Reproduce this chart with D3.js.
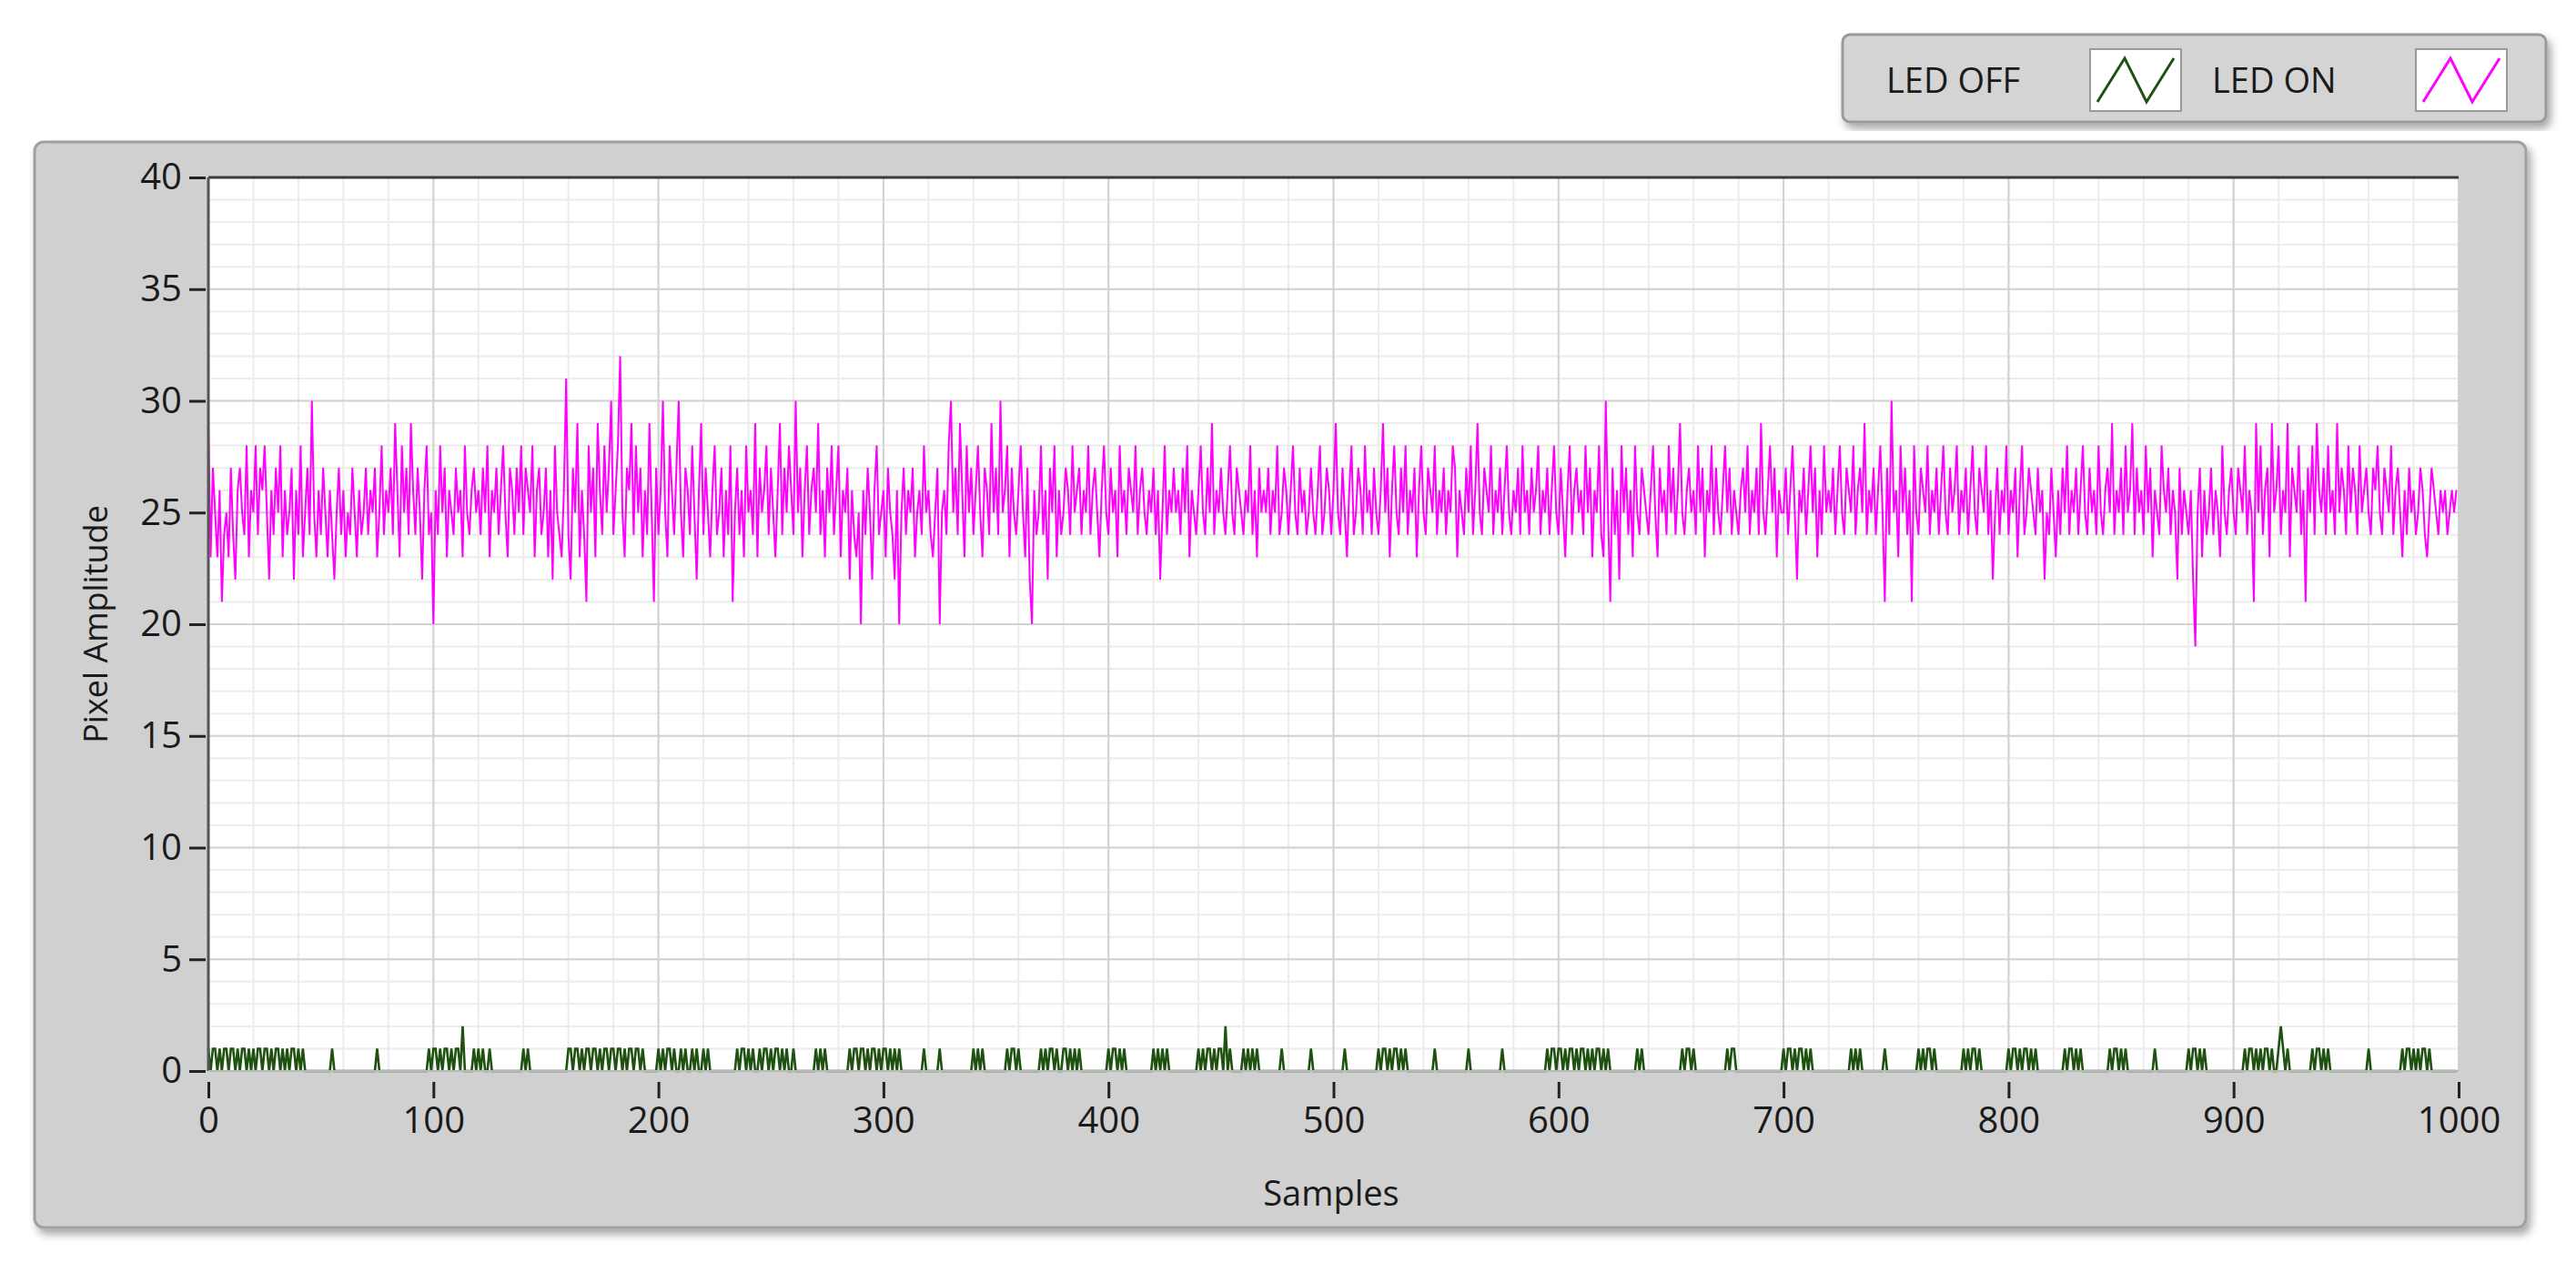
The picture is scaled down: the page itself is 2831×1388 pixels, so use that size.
<!DOCTYPE html>
<html><head><meta charset="utf-8">
<script src="https://cdn.jsdelivr.net/npm/d3@7/dist/d3.min.js"></script>
<style>body{margin:0;background:#fff}svg{display:block}</style>
</head><body>
<svg id="c" width="2831" height="1388"></svg>
<script>
const seriesNames = ["LED OFF", "LED ON"];
const xTicks = [0,100,200,300,400,500,600,700,800,900,1000];
const yTicks = [0,5,10,15,20,25,30,35,40];
const ledOn = [
29,23,27,25,23,26,21,24,25,23, 27,24,22,26,27,25,24,28,23,26, 25,28,24,27,26,28,25,22,26,24, 27,25,28,23,26,24,25,27,22,26,
24,28,23,25,27,24,30,25,23,26, 24,27,25,23,26,24,22,25,27,24, 26,23,25,24,27,25,23,26,24,25, 27,24,26,25,27,23,25,28,24,26,
25,27,24,29,26,23,28,25,27,24, 29,26,24,27,25,22,26,28,24,25, 20,26,24,28,25,27,23,26,25,24, 27,25,26,23,28,25,24,26,27,25,
26,24,27,25,28,23,26,25,27,24, 26,28,25,23,27,26,24,27,25,28, 24,27,26,25,28,23,26,27,24,25, 27,23,26,22,28,25,24,23,26,31,
24,22,27,25,29,23,26,24,21,28, 25,27,23,29,26,24,28,25,27,30, 24,26,28,32,25,23,27,26,29,24, 28,25,27,23,26,24,29,25,21,27,
24,26,30,25,23,28,26,24,27,30, 25,23,27,26,24,28,25,22,26,29, 24,27,25,23,26,28,24,25,27,23, 26,24,28,21,25,27,24,26,23,28,
25,26,24,29,23,27,25,26,28,24, 27,25,23,26,29,24,27,25,28,26, 24,30,25,27,23,26,28,24,26,27, 25,29,24,26,23,27,25,28,24,26,
28,23,26,25,27,22,26,24,23,25, 20,26,24,27,25,22,26,28,24,25, 26,23,27,25,24,22,26,20,25,27, 24,26,25,27,23,25,26,24,28,25,
26,24,23,25,27,20,25,26,24,28, 30,25,27,24,29,26,23,28,25,27, 24,26,28,25,23,27,26,24,29,25, 27,24,30,25,26,28,23,27,25,24,
26,28,25,23,27,22,20,26,24,25, 28,24,26,22,27,25,28,23,26,24, 25,27,26,24,28,25,26,27,24,26, 25,28,24,26,27,25,23,26,28,25,
24,27,25,26,23,28,25,26,24,27, 26,25,28,24,26,27,25,24,26,25, 27,24,26,22,25,28,24,26,25,27, 25,26,24,27,25,28,23,26,25,24,
26,28,25,24,27,25,29,24,26,25, 27,25,24,26,28,25,24,27,26,25, 24,26,25,28,24,26,23,27,25,26, 25,27,24,26,25,28,24,25,27,26,
24,26,28,25,24,27,25,26,24,25, 27,25,24,26,28,24,25,27,26,24, 26,29,25,24,27,25,23,26,28,24, 25,27,26,24,28,25,26,24,27,25,
24,26,29,25,27,23,26,28,25,24, 27,25,28,24,26,25,27,23,26,28, 25,24,27,26,25,28,24,26,25,27, 24,26,25,28,27,23,26,25,24,27,
25,28,24,26,29,25,24,27,26,25, 28,24,26,25,27,24,26,28,25,24, 26,25,27,24,28,25,26,24,27,25, 26,28,24,26,25,27,24,26,28,25,
24,27,25,23,26,28,24,26,27,25, 26,24,28,25,27,23,26,25,28,24, 23,30,25,21,27,24,26,22,28,25, 27,24,26,23,28,25,24,27,26,25,
24,26,28,25,23,27,25,26,24,28, 25,27,24,26,29,25,24,26,27,25, 26,24,28,25,27,23,26,25,28,24, 27,25,24,26,28,25,27,24,26,25,
24,26,27,25,28,24,26,25,27,24, 29,25,24,26,28,25,27,23,26,25, 25,27,24,26,28,25,22,26,25,27, 24,26,28,25,27,23,26,24,28,25,
26,25,27,24,26,28,25,24,27,26, 25,28,24,26,27,25,29,24,26,25, 27,24,26,28,25,21,27,24,30,25, 26,23,28,25,27,24,26,21,28,25,
24,27,26,25,28,24,26,25,27,24, 26,28,25,24,27,25,26,28,24,26, 25,27,24,26,28,25,24,27,26,25, 28,24,26,22,25,27,24,26,25,28,
24,26,25,27,23,26,28,24,25,27, 26,25,24,27,25,26,22,25,24,27, 25,23,26,24,27,25,28,24,26,25, 27,24,26,28,25,24,27,25,26,24,
28,25,24,26,27,25,29,24,26,25, 27,24,28,25,26,29,24,27,25,26, 24,28,25,27,23,26,25,24,28,26, 25,27,24,26,25,22,27,24,26,25,
24,26,22,19,25,27,23,26,24,25, 27,24,26,25,23,28,25,24,26,27, 25,24,27,26,25,28,24,26,25,21, 29,25,28,24,26,27,23,29,25,26,
28,24,26,25,29,23,27,26,25,28, 24,26,21,27,25,28,24,29,26,25, 27,24,28,25,26,24,29,25,27,26, 24,28,25,27,26,24,28,25,26,27,
25,24,27,26,28,25,24,27,26,25, 28,24,26,27,25,23,26,24,27,25, 26,24,25,27,26,24,23,25,27,26, 25,24,26,25,26,24,25,26,25,26
];
const ledOffDigits =
"1011010110"+"1101011010"+"1011011010"+"1101010110"+"1010000000"+"0000010000"+"0000000000"+"0000010000"+"0000000000"+"0000000010"+
"1101011010"+"1102000010"+"1010010000"+"0000000000"+"1010000000"+"0000000000"+"1101101011"+"0110101101"+"1011010110"+"1101000000"+
"1010110100"+"1010010100"+"1010000000"+"0000010110"+"1010010110"+"1011010100"+"1000000000"+"1010100000"+"0000010110"+"1101011010"+
"1101010100"+"0000000010"+"0000010000"+"0000000000"+"1010100000"+"0000010110"+"1000000000"+"1010110100"+"1101010100"+"0000000000"+
"1011010100"+"0000000000"+"1010101000"+"0000000000"+"1010110101"+"1020100000"+"1010101000"+"0000000100"+"0000000000"+"1000000000"+
"0000010000"+"0000000000"+"1011010110"+"1010000000"+"0000010000"+"0000000000"+"1000000000"+"0000010000"+"0000000000"+"0000010110"+
"1101011010"+"1101010110"+"1010000000"+"0000010100"+"0000000000"+"0000010110"+"1000000000"+"0000010110"+"0000000000"+"0000000000"+
"1011010110"+"1010000000"+"0000000000"+"1010100000"+"0000010000"+"0000000000"+"1010110100"+"0000000000"+"1010110100"+"0000000000"+
"1011010110"+"1010000000"+"0000010110"+"1010000000"+"0000010110"+"1010000000"+"0000010000"+"0000000000"+"1011010100"+"0000000000"+
"0000010110"+"1010110100"+"1210100000"+"0000010110"+"1010000000"+"0000000000"+"1000000000"+"0000010110"+"1010110100"+"0000000000";
const ledOff = ledOffDigits.split("").map(Number);

const svg = d3.select("#c");
const defs = svg.append("defs");
const sh = defs.append("filter").attr("id","sh").attr("x","-5%").attr("y","-5%").attr("width","110%").attr("height","115%");
sh.append("feDropShadow").attr("dx",4).attr("dy",6).attr("stdDeviation",5).attr("flood-color","#000").attr("flood-opacity",0.35);

svg.append("rect").attr("x",2025).attr("y",38).attr("width",773).attr("height",96).attr("rx",8)
  .attr("fill","#d4d4d4").attr("stroke","#9a9a9a").attr("stroke-width",3).attr("filter","url(#sh)");
svg.append("rect").attr("x",38).attr("y",156).attr("width",2738).attr("height",1193).attr("rx",10)
  .attr("fill","#d0d0d0").attr("stroke","#a0a0a0").attr("stroke-width",3).attr("filter","url(#sh)");

const font = "'Open Sans', 'DejaVu Sans', sans-serif";
const L=229,R=2702,T=195,B=1177;
const x = d3.scaleLinear().domain([0,1000]).range([L,R]);
const y = d3.scaleLinear().domain([0,40]).range([B,T]);

svg.append("rect").attr("x",L).attr("y",T).attr("width",R-L).attr("height",B-T).attr("fill","#fff");
const g = svg.append("g");
g.selectAll(".mx").data(d3.range(0,1001,20)).join("line")
  .attr("x1",d=>x(d)).attr("x2",d=>x(d)).attr("y1",T).attr("y2",B).attr("stroke","#ececec").attr("stroke-width",2);
g.selectAll(".my").data(d3.range(0,41,1)).join("line")
  .attr("y1",d=>y(d)).attr("y2",d=>y(d)).attr("x1",L).attr("x2",R).attr("stroke","#ececec").attr("stroke-width",2);
g.selectAll(".Mx").data(xTicks).join("line")
  .attr("x1",d=>x(d)).attr("x2",d=>x(d)).attr("y1",T).attr("y2",B).attr("stroke","#d2d2d2").attr("stroke-width",2);
g.selectAll(".My").data(yTicks).join("line")
  .attr("y1",d=>y(d)).attr("y2",d=>y(d)).attr("x1",L).attr("x2",R).attr("stroke","#d2d2d2").attr("stroke-width",2);

const line = d3.line().x((d,i)=>x(i)).y(d=>y(d));
svg.append("path").datum(ledOn).attr("d",line).attr("fill","none").attr("stroke","#ff00ff").attr("stroke-width",2);
svg.append("path").datum(ledOff).attr("d",line).attr("fill","none").attr("stroke","#1f5210").attr("stroke-width",2.6);

svg.append("line").attr("x1",L).attr("x2",R).attr("y1",T).attr("y2",T).attr("stroke","#3a3a3a").attr("stroke-width",3);
svg.append("line").attr("x1",L).attr("x2",L).attr("y1",T).attr("y2",B).attr("stroke","#555").attr("stroke-width",3);
svg.append("line").attr("x1",L).attr("x2",R).attr("y1",B).attr("y2",B).attr("stroke","#b8b8b8").attr("stroke-width",2);

const ya = svg.append("g").attr("transform",`translate(${L-3},0)`)
  .call(d3.axisLeft(y).tickValues(yTicks).tickFormat(d3.format("d")).tickSize(18).tickPadding(8));
ya.select(".domain").remove();
ya.selectAll("line").attr("stroke","#222").attr("stroke-width",3);
ya.selectAll("text").attr("font-family",font).attr("font-size",40).attr("fill","#1a1a1a");

const xa = svg.append("g").attr("transform",`translate(0,${B+12})`)
  .call(d3.axisBottom(x).tickValues(xTicks).tickFormat(d3.format("d")).tickSize(18).tickPadding(10));
xa.select(".domain").remove();
xa.selectAll("line").attr("stroke","#222").attr("stroke-width",3);
xa.selectAll("text").attr("font-family",font).attr("font-size",40).attr("fill","#1a1a1a");

svg.append("text").attr("x",1463).attr("y",1325).attr("text-anchor","middle")
  .attr("font-family",font).attr("font-size",38).attr("fill","#1a1a1a").text("Samples");
svg.append("text").attr("transform","translate(118,686) rotate(-90)").attr("text-anchor","middle")
  .attr("font-family",font).attr("font-size",36).attr("fill","#1a1a1a").text("Pixel Amplitude");

const leg = [{n:seriesNames[0],c:"#1f5210",tx:2073,sx:2297},{n:seriesNames[1],c:"#ff00ff",tx:2431,sx:2655}];
leg.forEach(l=>{
  svg.append("text").attr("x",l.tx).attr("y",102).attr("font-family",font).attr("font-size",38).attr("fill","#1a1a1a").text(l.n);
  svg.append("rect").attr("x",l.sx).attr("y",54).attr("width",100).attr("height",68).attr("fill","#fff").attr("stroke","#999").attr("stroke-width",2);
  svg.append("path").attr("d",`M${l.sx+8},${112} L${l.sx+38},${64} L${l.sx+62},${112} L${l.sx+92},${64}`)
    .attr("fill","none").attr("stroke",l.c).attr("stroke-width",3);
});
</script>
</body></html>
